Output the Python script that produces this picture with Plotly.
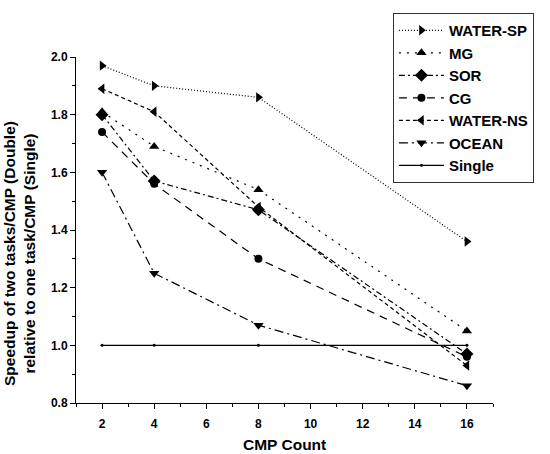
import plotly.graph_objects as go

cmp_count = [2, 4, 8, 16]
water_sp = [1.97, 1.90, 1.86, 1.36]
mg = [1.81, 1.69, 1.54, 1.05]
sor = [1.80, 1.57, 1.47, 0.97]
cg = [1.74, 1.56, 1.30, 0.96]
water_ns = [1.89, 1.81, 1.48, 0.93]
ocean = [1.60, 1.25, 1.07, 0.86]
single = [1.0, 1.0, 1.0, 1.0]

series = [
    ("WATER-SP", water_sp, "triangle-right", 9, "1px,2px"),
    ("MG", mg, "triangle-up", 9, "2px,6px"),
    ("SOR", sor, "diamond", 10, "6px,3px,2px,3px"),
    ("CG", cg, "circle", 8, "8px,6px"),
    ("WATER-NS", water_ns, "triangle-left", 9, "4px,3px"),
    ("OCEAN", ocean, "triangle-down", 9, "9px,4px,2px,4px"),
]

fig = go.Figure()
for name, vals, sym, size, dash in series:
    fig.add_trace(go.Scatter(
        x=cmp_count, y=vals, name=name, mode="lines+markers",
        line=dict(color="black", width=1.2, dash=dash),
        marker=dict(symbol=sym, size=size, color="black"),
    ))
fig.add_trace(go.Scatter(
    x=cmp_count, y=single, name="Single", mode="lines+markers",
    line=dict(color="black", width=1.3),
    marker=dict(symbol="circle", size=3, color="black"),
))

font_family = "Liberation Sans, Arial, sans-serif"
fig.update_layout(
    width=550, height=454,
    margin=dict(l=76, r=57, t=57, b=51, autoexpand=False),
    paper_bgcolor="white", plot_bgcolor="white",
    font=dict(family=font_family, color="black"),
    showlegend=True,
    legend=dict(
        x=0.76, y=1.127, xanchor="left", yanchor="top",
        bordercolor="#333", borderwidth=1,
        font=dict(size=15, family=font_family, weight="bold"),
        itemwidth=45, tracegroupgap=0,
        bgcolor="white",
    ),
    xaxis=dict(
        range=[1, 17], tickmode="linear", tick0=2, dtick=2,
        ticks="outside", ticklen=5, tickwidth=1, tickcolor="black",
        showline=True, linecolor="black", linewidth=1,
        showgrid=False, zeroline=False, automargin=False,
        tickfont=dict(size=12, weight="bold"), ticklabelstandoff=5,
        minor=dict(ticks="outside", tick0=1, dtick=2, ticklen=3, tickcolor="black", showgrid=False),
    ),
    yaxis=dict(
        range=[0.8, 2.0], tickmode="linear", tick0=0.8, dtick=0.2, tickformat=".1f",
        ticks="outside", ticklen=5, tickwidth=1, tickcolor="black",
        showline=True, linecolor="black", linewidth=1,
        showgrid=False, zeroline=False, automargin=False,
        tickfont=dict(size=12, weight="bold"),
        minor=dict(ticks="outside", tick0=0.9, dtick=0.2, ticklen=3, tickcolor="black", showgrid=False),
    ),
    annotations=[
        dict(text="CMP Count", xref="paper", yref="paper", x=0.5, y=-0.121,
             xanchor="center", yanchor="middle", showarrow=False,
             font=dict(size=15.5, weight="bold")),
        dict(text="Speedup of two tasks/CMP (Double)<br>relative to one task/CMP (Single)",
             xref="paper", yref="paper", x=-0.1367, y=0.4335, textangle=-90,
             xanchor="center", yanchor="middle", showarrow=False,
             font=dict(size=15.5, weight="bold")),
    ],
)

fig.write_html("out.html")
